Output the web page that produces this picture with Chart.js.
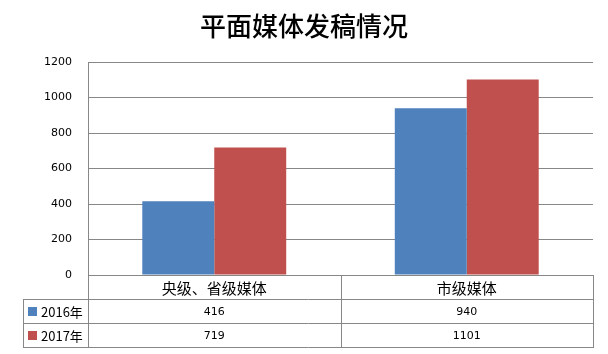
<!DOCTYPE html>
<html>
<head>
<meta charset="utf-8">
<script src="https://cdn.jsdelivr.net/npm/chart.js@4/dist/chart.umd.min.js"></script>
<style>
html,body{margin:0;padding:0;background:#fff;}
#wrap{position:relative;width:608px;height:354px;}
</style>
</head>
<body>
<div id="wrap"><canvas id="c" width="608" height="354"></canvas></div>
<script>
const titleText = '平面媒体发稿情况';
const categories = ['央级、省级媒体', '市级媒体'];
const seriesNames = ['2016年', '2017年'];
const values2016 = [416, 940];
const values2017 = [719, 1101];
const yTicks = [0, 200, 400, 600, 800, 1000, 1200];
const colors = ['#4F81BD', '#C0504D'];

const LINE = '#878787';
const CJK = "'Noto Sans CJK SC', 'Liberation Sans', sans-serif";
const NUM = "'DejaVu Sans', sans-serif";

const tablePlugin = {
  id: 'tablePlugin',
  afterDraw(chart) {
    const ctx = chart.ctx;
    const x = chart.scales.x, y = chart.scales.y;
    const left = chart.chartArea.left, right = chart.chartArea.right;
    const top = y.getPixelForValue(0);
    const rowH = 24;
    const tableLeft = 23;
    const rows = [top, top + rowH, top + 2 * rowH, top + 3 * rowH];
    const n = categories.length;
    const step = (right - left) / n;
    ctx.save();
    // title
    ctx.fillStyle = '#000';
    ctx.font = "500 26px " + CJK;
    ctx.textAlign = 'center';
    ctx.textBaseline = 'middle';
    ctx.fillText(titleText, 304, 26);

    ctx.strokeStyle = LINE;
    ctx.lineWidth = 1;
    const h = (x1, x2, yy) => { ctx.beginPath(); ctx.moveTo(x1, Math.round(yy) + 0.5); ctx.lineTo(x2, Math.round(yy) + 0.5); ctx.stroke(); };
    const v = (xx, y1, y2) => { ctx.beginPath(); ctx.moveTo(Math.round(xx) + 0.5, y1); ctx.lineTo(Math.round(xx) + 0.5, y2); ctx.stroke(); };
    h(left, right + 1, rows[0]);
    h(tableLeft, right + 1, rows[1]);
    h(tableLeft, right + 1, rows[2]);
    h(tableLeft, right + 1, rows[3]);
    v(tableLeft, rows[1], rows[3] + 1);
    for (let i = 0; i <= n; i++) {
      v(left + step * i, top, rows[3] + 1);
    }
    // category labels
    ctx.fillStyle = '#000';
    ctx.font = "15px " + CJK;
    for (let i = 0; i < n; i++) {
      ctx.fillText(categories[i], x.getPixelForValue(i), (rows[0] + rows[1]) / 2 + 1);
    }
    // series rows
    const data = [values2016, values2017];
    for (let s = 0; s < data.length; s++) {
      const cy = (rows[s + 1] + rows[s + 2]) / 2 + 1;
      ctx.fillStyle = colors[s];
      ctx.fillRect(28, Math.round(cy - 5), 9, 9);
      ctx.fillStyle = '#000';
      ctx.textAlign = 'left';
      ctx.font = "13px " + CJK;
      ctx.fillText(seriesNames[s], 41, cy);
      ctx.textAlign = 'center';
      ctx.font = "11px " + NUM;
      for (let i = 0; i < n; i++) {
        ctx.fillText(String(data[s][i]), x.getPixelForValue(i), cy);
      }
    }
    ctx.restore();
  }
};

new Chart(document.getElementById('c'), {
  type: 'bar',
  data: {
    labels: categories,
    datasets: [
      { label: seriesNames[0], data: values2016, backgroundColor: colors[0], categoryPercentage: 0.57, barPercentage: 1.0 },
      { label: seriesNames[1], data: values2017, backgroundColor: colors[1], categoryPercentage: 0.57, barPercentage: 1.0 }
    ]
  },
  options: {
    responsive: false,
    animation: false,
    layout: { padding: { top: 62, bottom: 79, right: 15, left: 0 } },
    plugins: { legend: { display: false }, title: { display: false }, tooltip: { enabled: false } },
    scales: {
      x: { display: false },
      y: {
        min: 0, max: 1200,
        afterBuildTicks(scale) { scale.ticks = yTicks.map(v => ({ value: v })); },
        afterFit(scale) { scale.width = 88; },
        grid: { color: LINE, drawTicks: false },
        border: { display: true, color: LINE },
        ticks: { color: '#000', padding: 16, font: { family: NUM, size: 11 }, callback: (v) => String(v) }
      }
    }
  },
  plugins: [tablePlugin]
});
</script>
</body>
</html>
